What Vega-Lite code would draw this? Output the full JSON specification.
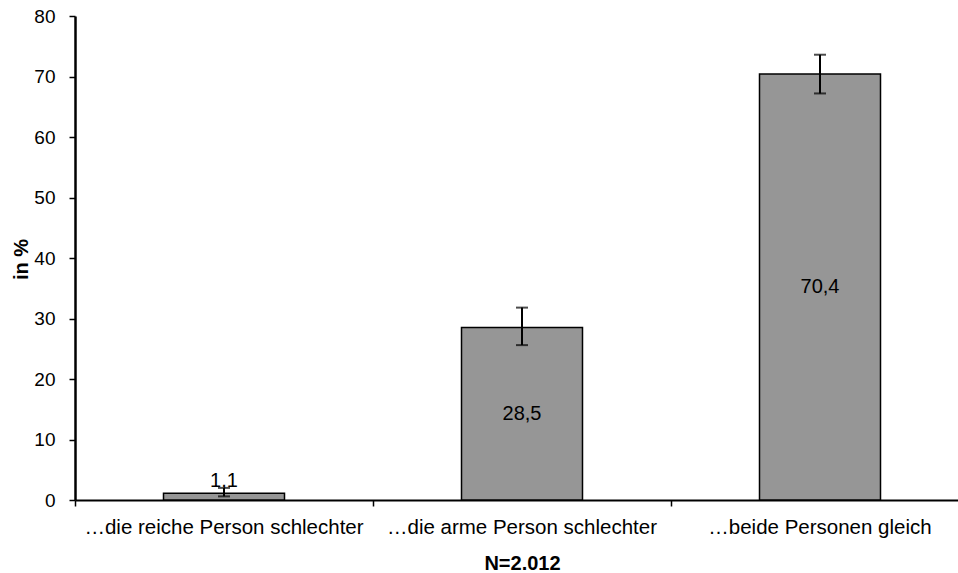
{
  "$schema": "https://vega.github.io/schema/vega-lite/v6.json",
  "autosize": {"type": "none"},
  "padding": {"left": 75, "top": 16, "right": 0, "bottom": 73},
  "width": 883,
  "height": 484,
  "background": "white",
  "config": {
    "view": {"stroke": null},
    "font": "Liberation Sans",
    "axis": {"labelFont": "Liberation Sans", "titleFont": "Liberation Sans", "labelColor": "#000", "titleColor": "#000", "domainColor": "#000", "tickColor": "#000", "grid": false}
  },
  "data": {
    "values": [
      {"cat": "…die reiche Person schlechter", "value": 1.1, "lo": 0.6, "hi": 2.0, "label": "1,1"},
      {"cat": "…die arme Person schlechter", "value": 28.5, "lo": 25.6, "hi": 31.8, "label": "28,5"},
      {"cat": "…beide Personen gleich", "value": 70.4, "lo": 67.2, "hi": 73.6, "label": "70,4"}
    ]
  },
  "transform": [
    {"calculate": "datum.value < 5 ? datum.value + 2 : datum.value / 2", "as": "labelY"}
  ],
  "encoding": {
    "x": {
      "field": "cat",
      "type": "nominal",
      "sort": null,
      "scale": {"range": [0, 894], "paddingInner": 0, "paddingOuter": 0},
      "axis": {
        "title": "N=2.012",
        "titleFontSize": 20,
        "titleFontWeight": "bold",
        "titleX": 447,
        "titleY": 69,
        "titleBaseline": "alphabetic",
        "labelAngle": 0,
        "labelFontSize": 20.5,
        "labelPadding": 11,
        "labelLimit": 0,
        "bandPosition": 0,
        "ticks": true,
        "tickSize": 6,
        "tickWidth": 1.5,
        "domainWidth": 2
      }
    }
  },
  "layer": [
    {
      "mark": {"type": "bar", "width": 121, "fill": "#969696", "stroke": "#000", "strokeWidth": 1.5},
      "encoding": {
        "y": {
          "field": "value",
          "type": "quantitative",
          "scale": {"domain": [0, 80], "nice": false},
          "axis": {
            "title": "in %",
            "titleFontSize": 20,
            "titleFontWeight": "bold",
            "titleAngle": -90,
            "titleX": -48,
            "titleY": 243,
            "titleAlign": "center",
            "titleBaseline": "alphabetic",
            "values": [0, 10, 20, 30, 40, 50, 60, 70, 80],
            "labelFontSize": 19,
            "labelPadding": 14,
            "tickSize": 6,
            "tickWidth": 1.5,
            "domainWidth": 2.5
          }
        }
      }
    },
    {
      "mark": {"type": "rule", "color": "#000", "strokeWidth": 2},
      "encoding": {"y": {"field": "lo", "type": "quantitative"}, "y2": {"field": "hi"}}
    },
    {
      "mark": {"type": "tick", "color": "#000", "thickness": 2, "size": 12},
      "encoding": {"y": {"field": "lo", "type": "quantitative"}}
    },
    {
      "mark": {"type": "tick", "color": "#000", "thickness": 2, "size": 12},
      "encoding": {"y": {"field": "hi", "type": "quantitative"}}
    },
    {
      "mark": {"type": "text", "fontSize": 20, "color": "#000", "baseline": "middle", "align": "center"},
      "encoding": {"y": {"field": "labelY", "type": "quantitative"}, "text": {"field": "label"}}
    }
  ]
}
